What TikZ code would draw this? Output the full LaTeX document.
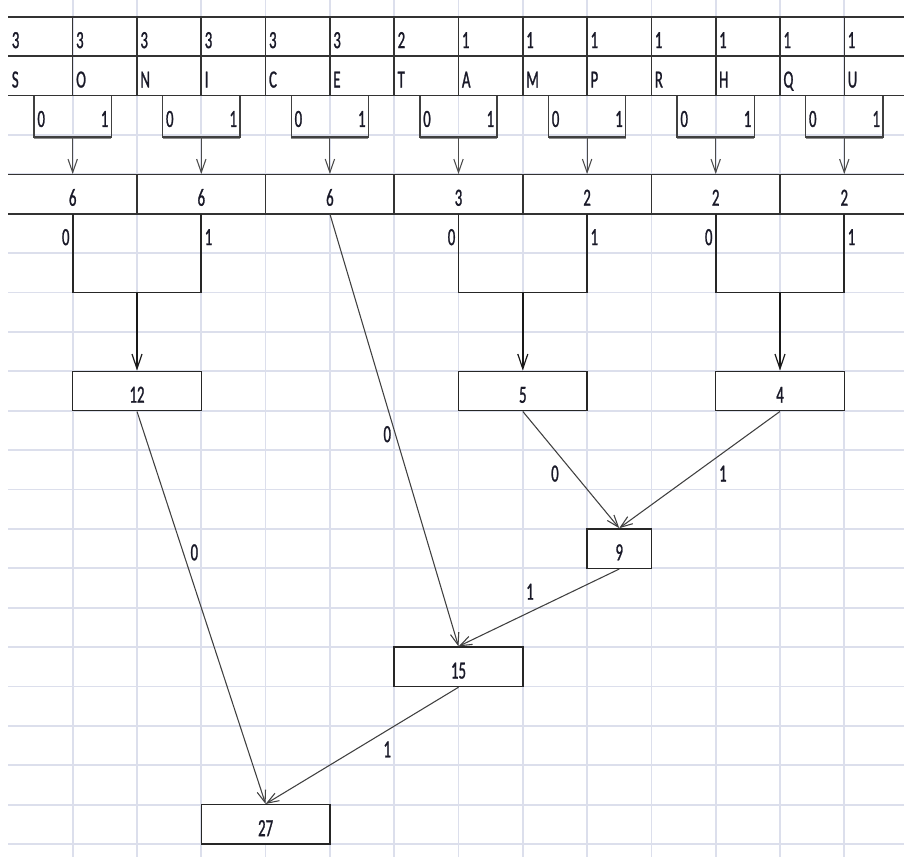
\documentclass[tikz,border=0pt]{standalone}
\usepackage{fontspec}
\newfontfamily\cellfont[FakeStretch=0.6, FakeBold=1]{Carlito}
\usepackage{xcolor}
\usepackage{tikz}
\usetikzlibrary{arrows.meta, positioning}
\definecolor{gridgray}{RGB}{220,223,236}
\definecolor{ink}{RGB}{25,25,40}

\begin{document}
\begin{tikzpicture}[
    x=48.225pt, y=-29.55pt,
    gridline/.style={draw=gridgray, line width=1.3pt},
    rule/.style={draw=black!80, line width=1.2pt},
    txt/.style={font=\cellfont\fontsize{18.5}{20}\selectfont, text=ink, inner sep=0pt},
    cell/.style={txt, anchor=base west, xshift=2.4pt, yshift=6pt},
    rcell/.style={txt, anchor=base east, xshift=-2.2pt, yshift=6pt},
    ccell/.style={txt, anchor=base, yshift=6pt},
    merged/.style={txt, fill=white, minimum width=96.45pt, minimum height=29.55pt,
        text height=17.6pt, text depth=0pt},
    box/.style={merged, draw=black!85, line width=1.1pt},
    single/.style={box, minimum width=48.225pt},
    bracket/.style={draw=black!75, line width=1pt},
    shadow/.style={draw=black!45, line width=1.3pt},
    merge/.style={draw=black!85, line width=1.4pt},
    drop/.style={-{Straight Barb[length=10pt, width=7pt]}, draw=black!70, line width=0.8pt},
    feed/.style={-{Straight Barb[length=11pt, width=7.5pt, line width=0.9pt]}, draw=black!90, line width=1.4pt},
    link/.style={-{Straight Barb[length=9pt, width=6.5pt]}, draw=black!75, line width=0.8pt}
]
\fill[white] (-0.1306,-0.4239) rectangle (13.9285,21.3274);
\useasboundingbox (-0.1306,-0.4239) rectangle (13.9285,21.3274);

% sheet grid
\foreach \k in {1,...,13}
    \draw[gridline] (\k,-0.43) -- (\k,21.33);
\foreach \r in {0,...,21}
    \draw[gridline] (0,\r) -- (13.93,\r);

% merged cells with the pair sums
\foreach \v [count=\i] in {6,6,6,3,2,2,2}
    \node[merged] (sum\i) at ({2*\i-1},4.5) {\v};

% table borders
\foreach \r in {0,1,2,4,5}
    \draw[rule] (0,\r) -- (13.93,\r);
\foreach \k in {1,...,13}
    \draw[rule] (\k,0) -- (\k,2);
\foreach \k in {2,4,...,12}
    \draw[rule] (\k,4) -- (\k,5);

% counts and letters
\foreach \n/\l [count=\i from 0] in {3/S,3/O,3/N,3/I,3/C,3/E,2/T,1/A,1/M,1/P,1/R,1/H,1/Q,1/U}{
    \node[cell] (cnt\i) at (\i,1) {\n};
    \node[cell] (let\i) at (\i,2) {\l};
}

% first pairing
\foreach \i in {1,...,7}{
    \pgfmathsetmacro\c{int(2*\i-1)}
    \draw[shadow] (\c-0.6,3.07) -- (\c+0.6,3.07);
    \draw[bracket] (\c-0.6,2) |- (\c+0.6,3.05) -- (\c+0.6,2);
    \node[txt, anchor=base west, xshift=2.3pt, yshift=6pt] (zero\i) at (\c-0.6,3) {0};
    \node[txt, anchor=base east, xshift=-2pt, yshift=6pt] (one\i) at (\c+0.6,3) {1};
    \coordinate (pair\i) at (\c,3.05);
    \draw[drop] (pair\i) -- (sum\i.north);
}

% tree boxes
\node[box] (n12) at (2,9.5) {12};
\node[box] (n5) at (8,9.5) {5};
\node[box] (n4) at (12,9.5) {4};
\node[single] (n9) at (9.5,13.5) {9};
\node[box] (n15) at (7,16.5) {15};
\node[box] (n27) at (4,20.5) {27};

% joins below the sums
\coordinate (m12) at (2,7);
\coordinate (m5) at (8,7);
\coordinate (m4) at (12,7);
\draw[merge] (sum1.south) |- (m12) -| (sum2.south);
\draw[merge] (sum4.south) |- (m5) -| (sum5.south);
\draw[merge] (sum6.south) |- (m4) -| (sum7.south);
\draw[feed] (m12) -- (n12.north);
\draw[feed] (m5) -- (n5.north);
\draw[feed] (m4) -- (n4.north);

\node[rcell] (a0) at (1,6) {0};
\node[cell] (a1) at (3,6) {1};
\node[rcell] (b0) at (7,6) {0};
\node[cell] (b1) at (9,6) {1};
\node[rcell] (c0) at (11,6) {0};
\node[cell] (c1) at (13,6) {1};

% merging the rest
\draw[link] (n5.south) -- (n9.north);
\draw[link] (n4.south) -- (n9.north);
\draw[link] (sum3.south) -- (n15.north);
\draw[link] (n9.south) -- (n15.north);
\draw[link] (n12.south) -- (n27.north);
\draw[link] (n15.south) -- (n27.north);

\node[ccell] (d0) at (8.5,12) {0};
\node[cell] (d1) at (11,12) {1};
\node[rcell] (e0) at (6,11) {0};
\node[cell] (e1) at (8,15) {1};
\node[rcell] (f0) at (3,14) {0};
\node[rcell] (f1) at (6,19) {1};

\end{tikzpicture}
\end{document}
